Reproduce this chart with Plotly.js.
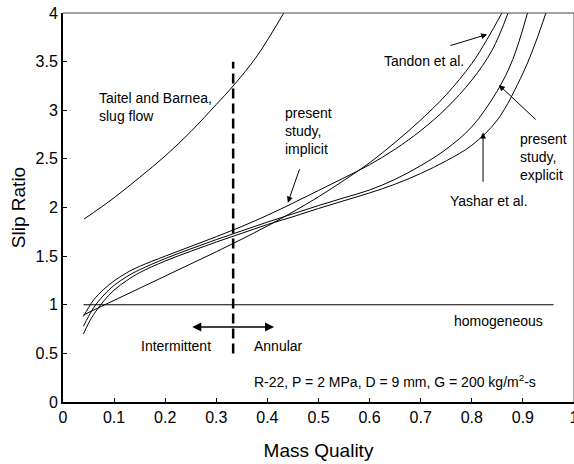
<!DOCTYPE html>
<html>
<head>
<meta charset="utf-8">
<script src="https://cdn.plot.ly/plotly-3.0.1.min.js"></script>
<style>html,body{margin:0;padding:0;background:#fff;}#chart{width:574px;height:464px;}</style>
</head>
<body>
<div id="chart"></div>
<script>
// ---- data ----
var tandonX = [0.04, 0.1, 0.15, 0.2, 0.25, 0.3, 0.35, 0.4, 0.45, 0.5, 0.55, 0.6, 0.65, 0.7, 0.75, 0.8, 0.83, 0.859];
var tandonY = [0.895, 1.045, 1.17, 1.295, 1.42, 1.545, 1.675, 1.81, 1.955, 2.11, 2.28, 2.46, 2.67, 2.9, 3.16, 3.48, 3.73, 4.0];

var implicitX = [0.04, 0.05, 0.06, 0.08, 0.1, 0.125, 0.15, 0.2, 0.25, 0.3, 0.35, 0.4, 0.45, 0.5, 0.55, 0.6, 0.65, 0.7, 0.75, 0.8, 0.84, 0.871];
var implicitY = [0.88, 0.97, 1.05, 1.16, 1.245, 1.33, 1.395, 1.5, 1.6, 1.7, 1.805, 1.92, 2.045, 2.175, 2.305, 2.44, 2.6, 2.79, 3.02, 3.31, 3.62, 4.0];

var explicitX = [0.04, 0.05, 0.06, 0.08, 0.1, 0.125, 0.15, 0.2, 0.25, 0.3, 0.35, 0.4, 0.45, 0.5, 0.55, 0.6, 0.65, 0.7, 0.75, 0.8, 0.85, 0.88, 0.909];
var explicitY = [0.78, 0.88, 0.97, 1.1, 1.2, 1.29, 1.36, 1.475, 1.575, 1.67, 1.76, 1.85, 1.935, 2.02, 2.1, 2.18, 2.29, 2.43, 2.6, 2.83, 3.2, 3.52, 4.0];

var yasharX = [0.04, 0.05, 0.06, 0.08, 0.1, 0.125, 0.15, 0.2, 0.25, 0.3, 0.35, 0.4, 0.45, 0.5, 0.55, 0.6, 0.65, 0.7, 0.75, 0.8, 0.85, 0.9, 0.925, 0.945];
var yasharY = [0.7, 0.81, 0.9, 1.04, 1.15, 1.25, 1.33, 1.45, 1.55, 1.645, 1.735, 1.825, 1.905, 1.99, 2.07, 2.15, 2.24, 2.35, 2.48, 2.64, 2.9, 3.38, 3.7, 4.0];

var taitelX = [0.041, 0.1, 0.15, 0.2, 0.25, 0.3, 0.333, 0.38, 0.432];
var taitelY = [1.88, 2.1, 2.31, 2.53, 2.78, 3.06, 3.25, 3.56, 4.0];

var homogX = [0.04, 0.96];
var homogY = [1, 1];

var boundaryX = [0.333, 0.333];
var boundaryY = [0.5, 3.5];

var xTickVals = [0, 0.1, 0.2, 0.3, 0.4, 0.5, 0.6, 0.7, 0.8, 0.9, 1];
var xTickText = ['0', '0.1', '0.2', '0.3', '0.4', '0.5', '0.6', '0.7', '0.8', '0.9', '1'];
var yTickVals = [0, 0.5, 1, 1.5, 2, 2.5, 3, 3.5, 4];
var yTickText = ['0', '0.5', '1', '1.5', '2', '2.5', '3', '3.5', '4'];

var FONT = 'Liberation Sans, Arial, Helvetica, sans-serif';

function curve(x, y, w) {
  return {x: x, y: y, type: 'scatter', mode: 'lines',
          line: {color: '#000', width: w || 1, shape: 'spline', smoothing: 1},
          hoverinfo: 'skip', showlegend: false};
}

var traces = [
  curve(taitelX, taitelY),
  curve(tandonX, tandonY),
  curve(implicitX, implicitY),
  curve(explicitX, explicitY),
  curve(yasharX, yasharY),
  {x: homogX, y: homogY, type: 'scatter', mode: 'lines', line: {color: '#000', width: 1.2}, showlegend: false, hoverinfo: 'skip'},
  {x: boundaryX, y: boundaryY, type: 'scatter', mode: 'lines', line: {color: '#000', width: 2.5, dash: '10px,5px'}, showlegend: false, hoverinfo: 'skip'}
];

function label(text, x, y) {
  return {text: text, x: x, y: y, xref: 'x', yref: 'y', showarrow: false,
          xanchor: 'left', yanchor: 'middle', align: 'left',
          font: {family: FONT, size: 14, color: '#000'}};
}
function arrow(x, y, ax, ay) {
  return {text: '', x: x, y: y, ax: ax, ay: ay, xref: 'x', yref: 'y', axref: 'x', ayref: 'y',
          showarrow: true, arrowhead: 2, arrowsize: 1.2, arrowwidth: 1, arrowcolor: '#000'};
}

var annotations = [
  label('Taitel and Barnea,<br>slug flow', 0.066, 3.035),
  label('present<br>study,<br>implicit', 0.43, 2.79),
  label('Tandon et al.', 0.624, 3.51),
  label('present<br>study,<br>explicit', 0.89, 2.52),
  label('Yashar et al.', 0.753, 2.07),
  label('homogeneous', 0.761, 0.835),
  label('Intermittent', 0.149, 0.58),
  label('Annular', 0.37, 0.58),
  label('R-22, P = 2 MPa, D = 9 mm, G = 200 kg/m<sup>2</sup>-s', 0.37, 0.22),
  arrow(0.83, 3.78, 0.755, 3.66),
  arrow(0.44, 2.05, 0.464, 2.41),
  arrow(0.853, 3.26, 0.928, 2.89),
  arrow(0.822, 2.77, 0.822, 2.25),
  {text: '', x: 0.413, y: 0.77, ax: 0.25, ay: 0.77, xref: 'x', yref: 'y', axref: 'x', ayref: 'y',
   showarrow: true, arrowhead: 2, startarrowhead: 2, arrowside: 'end+start',
   arrowsize: 1.2, startarrowsize: 1.2, arrowwidth: 1.5, arrowcolor: '#000'}
];

var layout = {
  width: 574, height: 464,
  margin: {l: 63, r: 0, t: 13, b: 62, pad: 0},
  paper_bgcolor: '#fff', plot_bgcolor: '#fff',
  showlegend: false,
  font: {family: FONT, color: '#000'},
  xaxis: {
    range: [0, 1], tickvals: xTickVals, ticktext: xTickText,
    showgrid: false, zeroline: false,
    showline: true, linecolor: '#000', linewidth: 2,
    ticks: 'inside', ticklen: 4, tickwidth: 1, tickcolor: '#000',
    tickfont: {family: FONT, size: 16, color: '#000'},
    ticklabeloverflow: 'allow',
    title: {text: 'Mass Quality', font: {family: FONT, size: 19, color: '#000'}, standoff: 18},
    automargin: false, fixedrange: true
  },
  yaxis: {
    range: [0, 4], tickvals: yTickVals, ticktext: yTickText,
    showgrid: false, zeroline: false,
    showline: true, linecolor: '#000', linewidth: 2,
    ticks: 'inside', ticklen: 4, tickwidth: 1, tickcolor: '#000',
    tickfont: {family: FONT, size: 16, color: '#000'},
    title: {text: 'Slip Ratio', font: {family: FONT, size: 19, color: '#000'}, standoff: 5},
    automargin: false, fixedrange: true
  },
  shapes: [
    {type: 'line', xref: 'paper', yref: 'paper', x0: 0, x1: 1, y0: 1, y1: 1, line: {color: '#444', width: 1}},
    {type: 'line', xref: 'paper', yref: 'paper', x0: 1, x1: 1, y0: 0, y1: 1, line: {color: '#444', width: 1}}
  ],
  annotations: annotations
};

Plotly.newPlot('chart', traces, layout, {displayModeBar: false, staticPlot: true});
</script>
</body>
</html>
